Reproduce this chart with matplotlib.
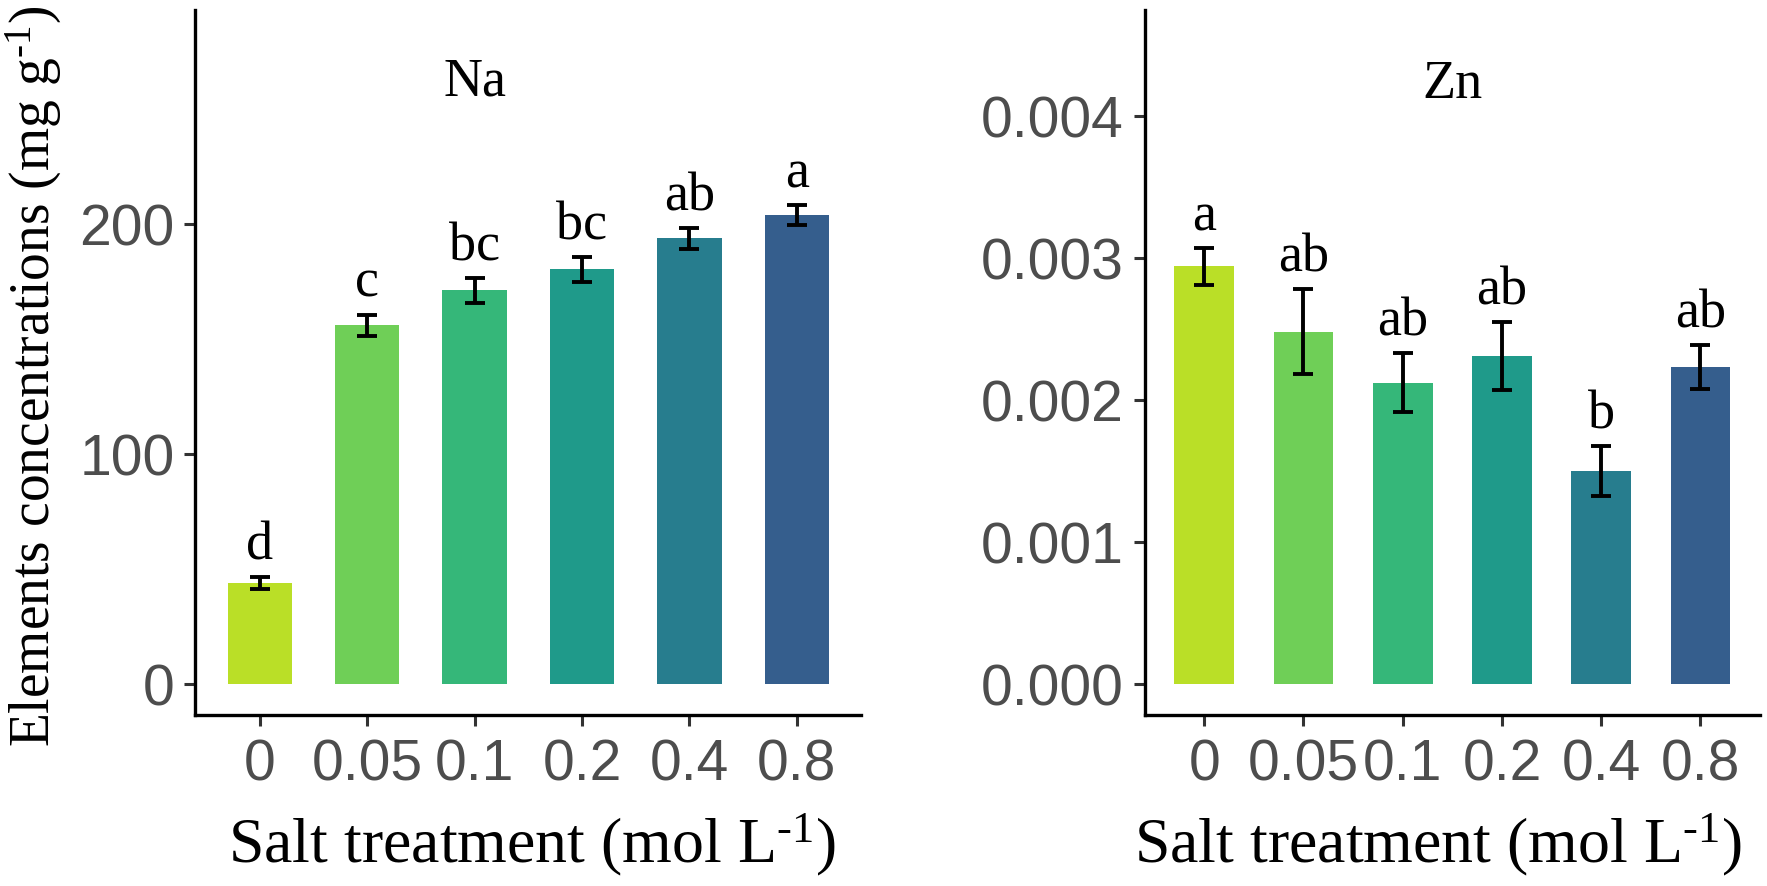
import numpy as np
import matplotlib
matplotlib.use("Agg")
import matplotlib.pyplot as plt

plt.rcParams['mathtext.fontset'] = 'custom'
plt.rcParams['mathtext.rm'] = 'Liberation Serif'
plt.rcParams['mathtext.it'] = 'Liberation Serif:italic'

# data
treatments = ['0', '0.05', '0.1', '0.2', '0.4', '0.8']
bar_colors = ['#BADF27', '#6FCF57', '#35B779', '#1F9A8A', '#277D8E', '#355E8D']

na_mean = [43.7, 155.8, 171.0, 180.1, 193.6, 203.9]
na_se = [2.5, 4.7, 5.5, 5.5, 4.5, 4.3]
na_letters = ['d', 'c', 'bc', 'bc', 'ab', 'a']

zn_mean = [0.00294, 0.00248, 0.00212, 0.00231, 0.00150, 0.00223]
zn_se = [0.000129, 0.000298, 0.000207, 0.000239, 0.000175, 0.000157]
zn_letters = ['a', 'ab', 'ab', 'ab', 'b', 'ab']

W, H = 1767, 887
fig = plt.figure(figsize=(W / 100, H / 100), dpi=100)

serif = 'Liberation Serif'
sans = 'Liberation Sans'


def panel(rect, means, ses, letters, title, title_x, title_y, ylim, yticks, yfmt):
    ax = fig.add_axes(rect)
    x = np.arange(1, len(treatments) + 1)
    ax.bar(x, means, width=0.6, color=bar_colors, zorder=2)
    ax.errorbar(x, means, yerr=ses, fmt='none', ecolor='black',
                elinewidth=2.8, capsize=7, capthick=2.8, zorder=3)
    for xi, m, s, lab in zip(x, means, ses, letters):
        ax.annotate(lab, (xi, m + s), xytext=(0, 13.5), textcoords='offset points',
                    ha='center', va='baseline', fontsize=39, family=serif)
    ax.text(title_x, title_y, title, ha='center', va='baseline',
            fontsize=39, family=serif)
    ax.set_xlim(0.4, 6.6)
    ax.set_ylim(*ylim)
    ax.set_xticks(x)
    ax.set_xticklabels(treatments)
    ax.set_yticks(yticks)
    ax.set_yticklabels([yfmt.format(v) for v in yticks])
    for side in ['top', 'right']:
        ax.spines[side].set_visible(False)
    for side in ['left', 'bottom']:
        ax.spines[side].set_linewidth(2.4)
    ax.tick_params(axis='both', length=8, width=2.2, color='#333333',
                   labelsize=41, labelcolor='#4D4D4D')
    ax.tick_params(axis='x', pad=8)
    ax.tick_params(axis='y', pad=7)
    for t in ax.get_xticklabels() + ax.get_yticklabels():
        t.set_family(sans)
    return ax


panel([195.3 / W, 1 - 716.3 / H, 666 / W, 705 / H],
      na_mean, na_se, na_letters, 'Na', 3.0, 256,
      (-13.75, 292.8), [0, 100, 200], '{:.0f}')
panel([1144.7 / W, 1 - 716.3 / H, 615.3 / W, 705 / H],
      zn_mean, zn_se, zn_letters, 'Zn', 3.5, 0.00413,
      (-0.000223, 0.004744), [0, 0.001, 0.002, 0.003, 0.004], '{:.3f}')

xlab = r'Salt treatment (mol L$^{\text{-1}}$)'
fig.text(531.5 / W, 1 - 862 / H, xlab, ha='center', va='baseline',
         fontsize=46, family=serif)
fig.text(1437.6 / W, 1 - 862 / H, xlab, ha='center', va='baseline',
         fontsize=46, family=serif)
fig.text(33.5 / W, 1 - 376 / H, r'Elements concentrations (mg g$^{\text{-1}}$)',
         rotation=90, ha='center', va='center', fontsize=40, family=serif)

fig.savefig('out.png', dpi=100, facecolor='white')
